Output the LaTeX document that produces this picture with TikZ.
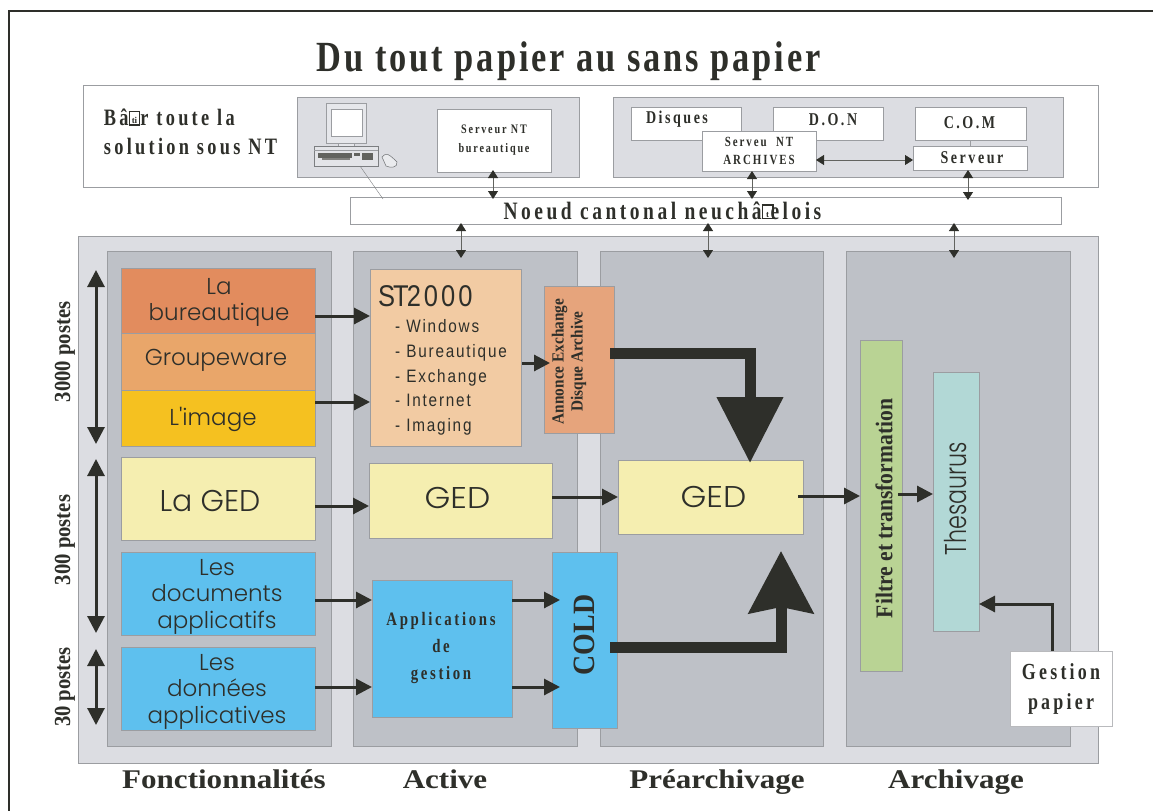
\documentclass[tikz,border=0pt]{standalone}
\usepackage{fontspec}
\usetikzlibrary{arrows.meta}
\setmainfont{Liberation Serif}
\newfontfamily\fsp[FakeStretch=.78,LetterSpace=14]{Liberation Serif}
\newfontfamily\fttl[FakeStretch=.8,LetterSpace=6.8]{Liberation Serif}
\newfontfamily\fcd[FakeStretch=.9]{Liberation Serif}
\newfontfamily\fwd[FakeStretch=1.15]{Liberation Serif}
\newfontfamily\fgeo{Poppins Light}
\newfontfamily\fgw[FakeStretch=1.1]{Poppins Light}
\newfontfamily\fgcd[FakeStretch=.74]{Poppins Light}
\newfontfamily\flist[FakeStretch=.85,LetterSpace=10]{Liberation Sans}
\newfontfamily\fgl{Liberation Serif}
\definecolor{bgc}{HTML}{DCDDE2}
\definecolor{panc}{HTML}{BEC1C7}
\definecolor{edge}{HTML}{9B9DA1}
\definecolor{ink}{HTML}{2E2F2A}
\newcommand\fz[1]{\fontsize{#1}{#1}\selectfont}
\newcommand\gl[1]{\raisebox{1.9pt}{\fboxsep=.5pt\fboxrule=1.4pt\fbox{\rule{0pt}{11pt}\makebox[8pt]{\fgl\bfseries\fontsize{9}{9}\selectfont #1}}}}
% \bx[style]{name}{x1}{y1}{x2}{y2}{dx}{dy}{label options}  text in \bxtext
\newcommand\bx[9][]{%
  \pgfmathsetmacro\cxx{(#3+#5)/2}\pgfmathsetmacro\cyy{(#4+#6)/2}%
  \pgfmathsetmacro\www{#5-#3}\pgfmathsetmacro\hhh{#6-#4}%
  \node[rect,#1,minimum width=\www pt,minimum height=\hhh pt,
    label={[labl,xshift=#7pt,yshift=#8pt,#9]center:{\bxtext}}] (#2) at (\cxx,\cyy) {};}
\tikzset{
  x=1pt,y=-1pt,
  rect/.style={draw=edge,line width=.7pt,inner sep=0,outer sep=0,fill=white},
  labl/.style={text=ink,inner sep=0,align=center},
  thin2/.style={draw=ink!75,line width=.8pt,{Triangle[length=8pt,width=10pt,color=ink]}-{Triangle[length=8pt,width=10pt,color=ink]}},
  dbl/.style={draw=ink,line width=3pt,{Triangle[length=17pt,width=17pt]}-{Triangle[length=17pt,width=17pt]}},
  arr/.style={draw=ink,line width=3pt,-{Triangle[length=16pt,width=16pt]}},
  pan/.style={fill=panc},
  bgp/.style={fill=bgc},
}
\begin{document}
\begin{tikzpicture}
\useasboundingbox (0,0) rectangle (1153,811);
\fill[white] (0,0) rectangle (1153,811);
\draw[ink,line width=2pt] (1153,11) -- (9,11) -- (9,811);
\node[text=ink,inner sep=0,anchor=base] (title) at (569,71) {\fttl\bfseries\fz{43}Du tout papier au sans papier};
% top band
\def\bxtext{\begin{tabular}{@{}l@{}}Bâ\gl{ti}r toute la\\[5pt]solution sous NT\end{tabular}}
\bx{top}{83}{85}{1098}{187}{-400}{1}{font=\fsp\bfseries\fz{23.5}}
\def\bxtext{}
\bx[bgp]{pl}{297}{97}{579}{177}{0}{0}{}
\bx[bgp]{pr}{613}{97}{1063}{177}{0}{0}{}
\def\bxtext{Serveur NT\\[6pt]bureautique}
\bx{srv}{437}{109}{551}{172}{0}{0}{font=\fsp\bfseries\fz{13}}
\def\bxtext{Disques}
\bx{dis}{631}{107}{741}{140}{-9}{4}{font=\fsp\bfseries\fz{18}}
\def\bxtext{D.O.N}
\bx{don}{773}{107}{883}{140}{5}{4}{font=\fsp\bfseries\fz{18}}
\def\bxtext{C.O.M}
\bx{com}{915}{107}{1026}{140}{-1}{1}{font=\fsp\bfseries\fz{18}}
\draw[edge,line width=.7pt] (com.south) -- (com.south |- 0,146);
\def\bxtext{Serveu\ \ NT\\[4pt]ARCHIVES}
\bx{arc}{702}{131}{816}{171}{0}{0}{font=\fsp\bfseries\fz{14}}
\def\bxtext{Serveur}
\bx{ser}{913}{146}{1027}{170}{2}{0}{font=\fsp\bfseries\fz{18}}
% computer
\draw[edge,line width=.5pt,fill=bgc!70] (326,103) rectangle (366,143);
\draw[edge,line width=.5pt,fill=white] (331,109) rectangle (362,136);
\draw[edge,line width=.5pt,fill=bgc!70] (338,143) rectangle (354,146);
\draw[edge!80!black,line width=.5pt,fill=bgc!80] (314,146) rectangle (378,166);
\draw[edge,line width=.4pt] (314,150) -- (378,150);
\fill[ink!75] (318,153) rectangle (352,158);
\fill[ink!60] (322,158) rectangle (350,160);
\fill[ink!75] (354,153) rectangle (360,156);
\fill[ink!75] (362,153) rectangle (373,160);
\draw[edge!70!black,line width=.5pt,fill=bgc!60] (382,157) .. controls (386,152) and (389,154) .. (397,162) .. controls (398,168) and (390,168) .. (386,166) -- cycle;
% noeud
\def\bxtext{Noeud cantonal neuchâ\gl{t}\hspace{-3pt}elois}
\bx{noe}{350}{197}{1061}{224}{-43}{0}{font=\fsp\bfseries\fz{25}}
\draw[edge!80!black,line width=.4pt] (360,166) -- (383,199);
% main
\def\bxtext{}
\bx[bgp]{main}{78}{236}{1098}{763}{0}{0}{}
\bx[pan]{c1}{107}{251}{331}{746}{0}{0}{}
\bx[pan]{c2}{353}{251}{577}{746}{0}{0}{}
\bx[pan]{c3}{600}{251}{823}{746}{0}{0}{}
\bx[pan]{c4}{846}{251}{1070}{746}{0}{0}{}
% c1
\def\bxtext{La\\[3pt]bureautique}
\bx[fill={rgb,255:red,226;green,140;blue,94}]{bur}{121}{268}{315}{333}{1}{-2}{font=\fgeo\fz{23}}
\def\bxtext{Groupeware}
\bx[fill={rgb,255:red,233;green,166;blue,106}]{gro}{121}{333}{315}{390}{-2}{1}{font=\fgeo\fz{23}}
\def\bxtext{L'image}
\bx[fill={rgb,255:red,245;green,193;blue,32}]{ima}{121}{390}{315}{446}{-5}{-1}{font=\fgeo\fz{23}}
\def\bxtext{La GED}
\bx[fill={rgb,255:red,245;green,238;blue,176}]{lag}{121}{457}{315}{540}{-8}{-3}{font=\fgeo\fz{30}}
\def\bxtext{Les\\[3.5pt]documents\\[3.5pt]applicatifs}
\bx[fill={rgb,255:red,94;green,192;blue,238}]{doc}{121}{552}{315}{635}{-1}{-3}{font=\fgeo\fz{23}}
\def\bxtext{Les\\[3.5pt]données\\[3.5pt]applicatives}
\bx[fill={rgb,255:red,94;green,192;blue,238}]{dat}{121}{647}{315}{730}{-1}{-3}{font=\fgeo\fz{23}}
% c2
\def\bxtext{\begin{tabular}{@{}l@{}}{\fz{30}S\kern-2pt T\kern-2pt 2000}\\[7pt]
 \hspace*{17pt}- Windows\\[6.5pt]\hspace*{17pt}- Bureautique\\[6.5pt]\hspace*{17pt}- Exchange\\[6.5pt]\hspace*{17pt}- Internet\\[6.5pt]\hspace*{17pt}- Imaging\end{tabular}}
\bx[fill={rgb,255:red,242;green,203;blue,163}]{st}{370}{269}{521}{446}{-3}{-4}{font=\flist\fz{18}}
\def\bxtext{Annonce Exchange\\[2pt]Disque Archive}
\bx[fill={rgb,255:red,230;green,164;blue,124}]{ann}{544}{286}{614}{433}{-10}{-2}{rotate=90,font=\fcd\bfseries\fz{17}}
\def\bxtext{GED}
\bx[fill={rgb,255:red,245;green,238;blue,176}]{ga}{369}{463}{552}{538}{-3}{3}{font=\fgw\fz{30}}
\def\bxtext{Applications\\[8pt]de\\[8pt]gestion}
\bx[fill={rgb,255:red,94;green,192;blue,238}]{app}{372}{580}{512}{717}{-1}{1}{font=\fsp\bfseries\fz{19}}
\def\bxtext{COLD}
\bx[fill={rgb,255:red,94;green,192;blue,238}]{cold}{552}{552}{617}{728}{0}{5}{rotate=90,font=\fcd\bfseries\fz{31}}
% c3
\def\bxtext{GED}
\bx[fill={rgb,255:red,245;green,238;blue,176}]{gp}{618}{460}{803}{534}{3}{0}{font=\fgw\fz{30}}
% c4
\def\bxtext{Filtre et transformation}
\bx[fill={rgb,255:red,185;green,211;blue,148}]{fil}{860}{340}{902}{671}{3}{-3}{rotate=90,font=\fcd\bfseries\fz{24}}
\def\bxtext{Thesaurus}
\bx[fill={rgb,255:red,178;green,216;blue,214}]{the}{933}{372}{979}{631}{0}{3}{rotate=90,font=\fgcd\fz{30}}
\def\bxtext{Gestion\\[7pt]papier}
\bx[draw=edge!70]{ges}{1010}{651}{1112}{726}{0}{0}{font=\fsp\bfseries\fz{23}}
% thin arrows
\draw[thin2] ([yshift=2pt]srv.south -| 493,0) -- ([yshift=-2pt]noe.north -| 493,0);
\draw[thin2] (arc.south -| 752,0) -- ([yshift=-2pt]noe.north -| 752,0);
\draw[thin2] (ser.south -| 968,0) -- ([yshift=-3pt]noe.north -| 968,0);
\draw[thin2] (arc.east |- 0,160) -- (ser.west |- 0,160);
\draw[thin2] ([yshift=1pt]noe.south -| 461,0) -- ([yshift=-22pt]main.north -| 461,0);
\draw[thin2] ([yshift=1pt]noe.south -| 708,0) -- ([yshift=-22pt]main.north -| 708,0);
\draw[thin2] ([yshift=1pt]noe.south -| 954,0) -- ([yshift=-22pt]main.north -| 954,0);
% left double arrows
\coordinate (a1) at (96,270); \coordinate (a2) at (96,444);
\coordinate (b1) at (96,459); \coordinate (b2) at (96,633);
\coordinate (d1) at (96,649); \coordinate (d2) at (96,725);
\draw[dbl] (a1) -- (a2); \draw[dbl] (b1) -- (b2); \draw[dbl] (d1) -- (d2);
\node[text=ink,inner sep=0,rotate=90] (t3000) at (65,352) {\fcd\bfseries\fz{23}3000 postes};
\node[text=ink,inner sep=0,rotate=90] (t300) at (65,540) {\fcd\bfseries\fz{23}300 postes};
\node[text=ink,inner sep=0,rotate=90] (t30) at (65,687) {\fcd\bfseries\fz{23}30 postes};
% arrows
\draw[arr] (bur.east |- 0,316) -- (st.west |- 0,316);
\draw[arr] (ima.east |- 0,402) -- (st.west |- 0,402);
\draw[arr] ([xshift=1pt]st.east |- 0,363) -- ([xshift=6pt]ann.west |- 0,363);
\draw[arr] (lag.east |- 0,506) -- (ga.west |- 0,506);
\draw[arr] (ga.east |- 0,497) -- (gp.west |- 0,497);
\draw[arr] ([xshift=-5pt]gp.east |- 0,496) -- (fil.west |- 0,496);
\draw[arr] ([xshift=-4pt]fil.east |- 0,494) -- (the.west |- 0,494);
\draw[arr] (doc.east |- 0,600) -- (app.west |- 0,600);
\draw[arr] (dat.east |- 0,687) -- (app.west |- 0,687);
\draw[arr] (app.east |- 0,600) -- ([xshift=8pt]cold.west |- 0,600);
\draw[arr] (app.east |- 0,687) -- ([xshift=8pt]cold.west |- 0,687);
\draw[arr] (ges.north -| 1052,0) |- (the.east |- 0,604);
% thick
\draw[ink,line width=11pt,-{Triangle[length=66pt,width=64pt]}] ([xshift=-4pt]ann.east |- 0,353) -| ([yshift=-3pt]gp.north -| 750,0);
\draw[ink,line width=11pt,-{Stealth[length=62pt,width=64pt,inset=6pt]}] ([xshift=-7pt]cold.east |- 0,647) -| ([yshift=-17pt]gp.south -| 781,0);
% bottom labels
\node[text=ink,inner sep=0,anchor=base] (l1) at (224,788) {\fwd\bfseries\fz{27}Fonctionnalités};
\node[text=ink,inner sep=0,anchor=base] (l2) at (445,788) {\fwd\bfseries\fz{27}Active};
\node[text=ink,inner sep=0,anchor=base] (l3) at (717,788) {\fwd\bfseries\fz{27}Préarchivage};
\node[text=ink,inner sep=0,anchor=base] (l4) at (956,788) {\fwd\bfseries\fz{27}Archivage};
\end{tikzpicture}
\end{document}
